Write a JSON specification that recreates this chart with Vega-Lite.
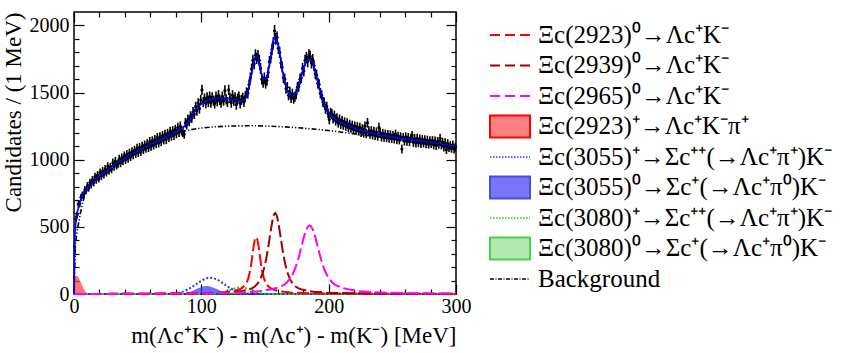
{
"$schema": "https://vega.github.io/schema/vega-lite/v6.json",
"padding": {"left": 1, "top": 10, "right": 5, "bottom": 5},
"background": "white",
"spacing": 5,
"config": {
  "view": {"stroke": null},
  "font": "Liberation Serif",
  "axis": {"labelFont": "Liberation Serif", "labelFontSize": 20, "labelColor": "black", "titleFont": "Liberation Serif", "titleFontSize": 23, "titleFontWeight": "normal", "titleColor": "black", "tickColor": "black", "tickWidth": 1.2, "labelFlush": false, "labelOverlap": false, "grid": false, "domain": false}
},
"resolve": {"scale": {"x": "independent", "y": "independent"}},
"datasets": {
"hist": [
{"x":0.5,"y":350,"e":19},{"x":1.5,"y":560,"e":24},{"x":2.5,"y":590,"e":24},{"x":3.5,"y":668,"e":26},{"x":4.5,"y":672,"e":26},{"x":5.5,"y":720,"e":27},{"x":6.5,"y":735,"e":27},{"x":7.5,"y":738,"e":27},{"x":8.5,"y":775,"e":28},{"x":9.5,"y":770,"e":28},
{"x":10.5,"y":805,"e":28},{"x":11.5,"y":790,"e":28},{"x":12.5,"y":830,"e":29},{"x":13.5,"y":815,"e":29},{"x":14.5,"y":850,"e":29},{"x":15.5,"y":830,"e":29},{"x":16.5,"y":872,"e":30},{"x":17.5,"y":850,"e":29},{"x":18.5,"y":885,"e":30},{"x":19.5,"y":860,"e":29},
{"x":20.5,"y":905,"e":30},{"x":21.5,"y":878,"e":30},{"x":22.5,"y":915,"e":30},{"x":23.5,"y":890,"e":30},{"x":24.5,"y":930,"e":30},{"x":25.5,"y":905,"e":30},{"x":26.5,"y":950,"e":31},{"x":27.5,"y":918,"e":30},{"x":28.5,"y":945,"e":31},{"x":29.5,"y":930,"e":30},
{"x":30.5,"y":978,"e":31},{"x":31.5,"y":948,"e":31},{"x":32.5,"y":990,"e":31},{"x":33.5,"y":958,"e":31},{"x":34.5,"y":970,"e":31},{"x":35.5,"y":1005,"e":32},{"x":36.5,"y":975,"e":31},{"x":37.5,"y":1015,"e":32},{"x":38.5,"y":990,"e":31},{"x":39.5,"y":1030,"e":32},
{"x":40.5,"y":1000,"e":32},{"x":41.5,"y":1040,"e":32},{"x":42.5,"y":1010,"e":32},{"x":43.5,"y":1050,"e":32},{"x":44.5,"y":1022,"e":32},{"x":45.5,"y":1060,"e":33},{"x":46.5,"y":1035,"e":32},{"x":47.5,"y":1070,"e":33},{"x":48.5,"y":1045,"e":32},{"x":49.5,"y":1085,"e":33},
{"x":50.5,"y":1052,"e":32},{"x":51.5,"y":1092,"e":33},{"x":52.5,"y":1060,"e":33},{"x":53.5,"y":1100,"e":33},{"x":54.5,"y":1075,"e":33},{"x":55.5,"y":1110,"e":33},{"x":56.5,"y":1085,"e":33},{"x":57.5,"y":1120,"e":33},{"x":58.5,"y":1090,"e":33},{"x":59.5,"y":1135,"e":34},
{"x":60.5,"y":1100,"e":33},{"x":61.5,"y":1140,"e":34},{"x":62.5,"y":1108,"e":33},{"x":63.5,"y":1150,"e":34},{"x":64.5,"y":1118,"e":33},{"x":65.5,"y":1165,"e":34},{"x":66.5,"y":1125,"e":34},{"x":67.5,"y":1170,"e":34},{"x":68.5,"y":1135,"e":34},{"x":69.5,"y":1180,"e":34},
{"x":70.5,"y":1148,"e":34},{"x":71.5,"y":1190,"e":34},{"x":72.5,"y":1150,"e":34},{"x":73.5,"y":1195,"e":35},{"x":74.5,"y":1165,"e":34},{"x":75.5,"y":1210,"e":35},{"x":76.5,"y":1175,"e":34},{"x":77.5,"y":1215,"e":35},{"x":78.5,"y":1180,"e":34},{"x":79.5,"y":1225,"e":35},
{"x":80.5,"y":1195,"e":35},{"x":81.5,"y":1240,"e":35},{"x":82.5,"y":1205,"e":35},{"x":83.5,"y":1250,"e":35},{"x":84.5,"y":1215,"e":35},{"x":85.5,"y":1205,"e":35},{"x":86.5,"y":1190,"e":34},{"x":87.5,"y":1275,"e":36},{"x":88.5,"y":1260,"e":35},{"x":89.5,"y":1300,"e":36},
{"x":90.5,"y":1285,"e":36},{"x":91.5,"y":1325,"e":36},{"x":92.5,"y":1310,"e":36},{"x":93.5,"y":1355,"e":37},{"x":94.5,"y":1340,"e":37},{"x":95.5,"y":1395,"e":37},{"x":96.5,"y":1365,"e":37},{"x":97.5,"y":1420,"e":38},{"x":98.5,"y":1380,"e":37},{"x":99.5,"y":1445,"e":38},
{"x":100.5,"y":1520,"e":39},{"x":101.5,"y":1430,"e":38},{"x":102.5,"y":1455,"e":38},{"x":103.5,"y":1420,"e":38},{"x":104.5,"y":1465,"e":38},{"x":105.5,"y":1430,"e":38},{"x":106.5,"y":1470,"e":38},{"x":107.5,"y":1425,"e":38},{"x":108.5,"y":1465,"e":38},{"x":109.5,"y":1440,"e":38},
{"x":110.5,"y":1420,"e":38},{"x":111.5,"y":1470,"e":38},{"x":112.5,"y":1435,"e":38},{"x":113.5,"y":1480,"e":38},{"x":114.5,"y":1445,"e":38},{"x":115.5,"y":1425,"e":38},{"x":116.5,"y":1470,"e":38},{"x":117.5,"y":1440,"e":38},{"x":118.5,"y":1515,"e":39},{"x":119.5,"y":1450,"e":38},
{"x":120.5,"y":1430,"e":38},{"x":121.5,"y":1520,"e":39},{"x":122.5,"y":1460,"e":38},{"x":123.5,"y":1425,"e":38},{"x":124.5,"y":1480,"e":38},{"x":125.5,"y":1440,"e":38},{"x":126.5,"y":1465,"e":38},{"x":127.5,"y":1410,"e":38},{"x":128.5,"y":1455,"e":38},{"x":129.5,"y":1470,"e":38},
{"x":130.5,"y":1420,"e":38},{"x":131.5,"y":1445,"e":38},{"x":132.5,"y":1460,"e":38},{"x":133.5,"y":1430,"e":38},{"x":134.5,"y":1470,"e":38},{"x":135.5,"y":1500,"e":39},{"x":136.5,"y":1495,"e":39},{"x":137.5,"y":1560,"e":39},{"x":138.5,"y":1610,"e":40},{"x":139.5,"y":1675,"e":41},
{"x":140.5,"y":1740,"e":42},{"x":141.5,"y":1715,"e":41},{"x":142.5,"y":1780,"e":42},{"x":143.5,"y":1755,"e":42},{"x":144.5,"y":1775,"e":42},{"x":145.5,"y":1740,"e":42},{"x":146.5,"y":1680,"e":41},{"x":147.5,"y":1600,"e":40},{"x":148.5,"y":1575,"e":40},{"x":149.5,"y":1610,"e":40},
{"x":150.5,"y":1570,"e":40},{"x":151.5,"y":1590,"e":40},{"x":152.5,"y":1650,"e":41},{"x":153.5,"y":1730,"e":42},{"x":154.5,"y":1760,"e":42},{"x":155.5,"y":1820,"e":43},{"x":156.5,"y":1870,"e":43},{"x":157.5,"y":1960,"e":44},{"x":158.5,"y":1900,"e":44},{"x":159.5,"y":1910,"e":44},
{"x":160.5,"y":1830,"e":43},{"x":161.5,"y":1800,"e":42},{"x":162.5,"y":1720,"e":41},{"x":163.5,"y":1690,"e":41},{"x":164.5,"y":1610,"e":40},{"x":165.5,"y":1600,"e":40},{"x":166.5,"y":1530,"e":39},{"x":167.5,"y":1540,"e":39},{"x":168.5,"y":1480,"e":38},{"x":169.5,"y":1505,"e":39},
{"x":170.5,"y":1460,"e":38},{"x":171.5,"y":1490,"e":39},{"x":172.5,"y":1455,"e":38},{"x":173.5,"y":1470,"e":38},{"x":174.5,"y":1490,"e":39},{"x":175.5,"y":1540,"e":39},{"x":176.5,"y":1545,"e":39},{"x":177.5,"y":1600,"e":40},{"x":178.5,"y":1610,"e":40},{"x":179.5,"y":1680,"e":41},
{"x":180.5,"y":1660,"e":41},{"x":181.5,"y":1740,"e":42},{"x":182.5,"y":1760,"e":42},{"x":183.5,"y":1730,"e":42},{"x":184.5,"y":1780,"e":42},{"x":185.5,"y":1770,"e":42},{"x":186.5,"y":1720,"e":41},{"x":187.5,"y":1745,"e":42},{"x":188.5,"y":1700,"e":41},{"x":189.5,"y":1640,"e":40},
{"x":190.5,"y":1630,"e":40},{"x":191.5,"y":1570,"e":40},{"x":192.5,"y":1560,"e":39},{"x":193.5,"y":1495,"e":39},{"x":194.5,"y":1480,"e":38},{"x":195.5,"y":1430,"e":38},{"x":196.5,"y":1425,"e":38},{"x":197.5,"y":1380,"e":37},{"x":198.5,"y":1395,"e":37},{"x":199.5,"y":1345,"e":37},
{"x":200.5,"y":1300,"e":36},{"x":201.5,"y":1350,"e":37},{"x":202.5,"y":1340,"e":37},{"x":203.5,"y":1305,"e":36},{"x":204.5,"y":1330,"e":36},{"x":205.5,"y":1290,"e":36},{"x":206.5,"y":1310,"e":36},{"x":207.5,"y":1275,"e":36},{"x":208.5,"y":1300,"e":36},{"x":209.5,"y":1265,"e":36},
{"x":210.5,"y":1290,"e":36},{"x":211.5,"y":1258,"e":35},{"x":212.5,"y":1280,"e":36},{"x":213.5,"y":1250,"e":35},{"x":214.5,"y":1272,"e":36},{"x":215.5,"y":1240,"e":35},{"x":216.5,"y":1262,"e":36},{"x":217.5,"y":1235,"e":35},{"x":218.5,"y":1255,"e":35},{"x":219.5,"y":1225,"e":35},
{"x":220.5,"y":1250,"e":35},{"x":221.5,"y":1220,"e":35},{"x":222.5,"y":1245,"e":35},{"x":223.5,"y":1215,"e":35},{"x":224.5,"y":1240,"e":35},{"x":225.5,"y":1205,"e":35},{"x":226.5,"y":1230,"e":35},{"x":227.5,"y":1200,"e":35},{"x":228.5,"y":1250,"e":35},{"x":229.5,"y":1195,"e":35},
{"x":230.5,"y":1275,"e":36},{"x":231.5,"y":1215,"e":35},{"x":232.5,"y":1190,"e":34},{"x":233.5,"y":1215,"e":35},{"x":234.5,"y":1185,"e":34},{"x":235.5,"y":1210,"e":35},{"x":236.5,"y":1180,"e":34},{"x":237.5,"y":1205,"e":35},{"x":238.5,"y":1175,"e":34},{"x":239.5,"y":1240,"e":35},
{"x":240.5,"y":1200,"e":35},{"x":241.5,"y":1170,"e":34},{"x":242.5,"y":1195,"e":35},{"x":243.5,"y":1168,"e":34},{"x":244.5,"y":1190,"e":34},{"x":245.5,"y":1165,"e":34},{"x":246.5,"y":1188,"e":34},{"x":247.5,"y":1160,"e":34},{"x":248.5,"y":1185,"e":34},{"x":249.5,"y":1158,"e":34},
{"x":250.5,"y":1180,"e":34},{"x":251.5,"y":1155,"e":34},{"x":252.5,"y":1190,"e":34},{"x":253.5,"y":1150,"e":34},{"x":254.5,"y":1175,"e":34},{"x":255.5,"y":1148,"e":34},{"x":256.5,"y":1170,"e":34},{"x":257.5,"y":1080,"e":33},{"x":258.5,"y":1165,"e":34},{"x":259.5,"y":1140,"e":34},
{"x":260.5,"y":1170,"e":34},{"x":261.5,"y":1138,"e":34},{"x":262.5,"y":1165,"e":34},{"x":263.5,"y":1135,"e":34},{"x":264.5,"y":1160,"e":34},{"x":265.5,"y":1180,"e":34},{"x":266.5,"y":1130,"e":34},{"x":267.5,"y":1158,"e":34},{"x":268.5,"y":1125,"e":34},{"x":269.5,"y":1160,"e":34},
{"x":270.5,"y":1128,"e":34},{"x":271.5,"y":1155,"e":34},{"x":272.5,"y":1120,"e":33},{"x":273.5,"y":1150,"e":34},{"x":274.5,"y":1125,"e":34},{"x":275.5,"y":1148,"e":34},{"x":276.5,"y":1118,"e":33},{"x":277.5,"y":1145,"e":34},{"x":278.5,"y":1115,"e":33},{"x":279.5,"y":1140,"e":34},
{"x":280.5,"y":1120,"e":33},{"x":281.5,"y":1142,"e":34},{"x":282.5,"y":1110,"e":33},{"x":283.5,"y":1138,"e":34},{"x":284.5,"y":1105,"e":33},{"x":285.5,"y":1135,"e":34},{"x":286.5,"y":1115,"e":33},{"x":287.5,"y":1160,"e":34},{"x":288.5,"y":1110,"e":33},{"x":289.5,"y":1130,"e":34},
{"x":290.5,"y":1095,"e":33},{"x":291.5,"y":1125,"e":34},{"x":292.5,"y":1075,"e":33},{"x":293.5,"y":1120,"e":33},{"x":294.5,"y":1090,"e":33},{"x":295.5,"y":1105,"e":33},{"x":296.5,"y":1085,"e":33},{"x":297.5,"y":1110,"e":33},{"x":298.5,"y":1080,"e":33},{"x":299.5,"y":1095,"e":33}
],
"curves": [
{"s":"tot","x":0,"v":0},{"s":"tot","x":0.5,"v":380},{"s":"tot","x":1,"v":490},{"s":"tot","x":2,"v":575},{"s":"tot","x":3,"v":625},{"s":"tot","x":4,"v":662},{"s":"tot","x":5,"v":693},{"s":"tot","x":6,"v":717},{"s":"tot","x":7,"v":737},{"s":"tot","x":8,"v":754},{"s":"tot","x":10,"v":784},{"s":"tot","x":12,"v":807},{"s":"tot","x":15,"v":838},{"s":"tot","x":20,"v":878},{"s":"tot","x":25,"v":915},{"s":"tot","x":30,"v":950},{"s":"tot","x":35,"v":982},{"s":"tot","x":40,"v":1012},{"s":"tot","x":45,"v":1040},{"s":"tot","x":50,"v":1066},{"s":"tot","x":55,"v":1090},{"s":"tot","x":60,"v":1113},{"s":"tot","x":65,"v":1135},{"s":"tot","x":70,"v":1158},{"s":"tot","x":75,"v":1180},{"s":"tot","x":80,"v":1205},{"s":"tot","x":85,"v":1236},{"s":"tot","x":88,"v":1264},{"s":"tot","x":90,"v":1285},{"s":"tot","x":93,"v":1330},{"s":"tot","x":95,"v":1360},{"s":"tot","x":98,"v":1398},{"s":"tot","x":100,"v":1415},{"s":"tot","x":103,"v":1433},{"s":"tot","x":105,"v":1443},{"s":"tot","x":110,"v":1455},{"s":"tot","x":115,"v":1460},{"s":"tot","x":120,"v":1458},{"s":"tot","x":125,"v":1448},{"s":"tot","x":130,"v":1437},{"s":"tot","x":132,"v":1437},{"s":"tot","x":134,"v":1447},{"s":"tot","x":135,"v":1460},{"s":"tot","x":136,"v":1490},{"s":"tot","x":137,"v":1525},{"s":"tot","x":138,"v":1565},{"s":"tot","x":139,"v":1615},{"s":"tot","x":140,"v":1665},{"s":"tot","x":141,"v":1715},{"s":"tot","x":142,"v":1755},{"s":"tot","x":143,"v":1772},{"s":"tot","x":144,"v":1762},{"s":"tot","x":145,"v":1732},{"s":"tot","x":146,"v":1690},{"s":"tot","x":147,"v":1648},{"s":"tot","x":148,"v":1617},{"s":"tot","x":149,"v":1599},{"s":"tot","x":150,"v":1595},{"s":"tot","x":151,"v":1605},{"s":"tot","x":152,"v":1635},{"s":"tot","x":153,"v":1680},{"s":"tot","x":154,"v":1740},{"s":"tot","x":155,"v":1800},{"s":"tot","x":156,"v":1858},{"s":"tot","x":157,"v":1900},{"s":"tot","x":158,"v":1915},{"s":"tot","x":159,"v":1905},{"s":"tot","x":160,"v":1870},{"s":"tot","x":161,"v":1820},{"s":"tot","x":162,"v":1765},{"s":"tot","x":163,"v":1705},{"s":"tot","x":164,"v":1650},{"s":"tot","x":165,"v":1600},{"s":"tot","x":166,"v":1560},{"s":"tot","x":167,"v":1530},{"s":"tot","x":168,"v":1505},{"s":"tot","x":169,"v":1488},{"s":"tot","x":170,"v":1478},{"s":"tot","x":171,"v":1472},{"s":"tot","x":172,"v":1472},{"s":"tot","x":173,"v":1478},{"s":"tot","x":174,"v":1492},{"s":"tot","x":175,"v":1512},{"s":"tot","x":176,"v":1538},{"s":"tot","x":177,"v":1568},{"s":"tot","x":178,"v":1600},{"s":"tot","x":179,"v":1635},{"s":"tot","x":180,"v":1668},{"s":"tot","x":181,"v":1700},{"s":"tot","x":182,"v":1725},{"s":"tot","x":183,"v":1743},{"s":"tot","x":184,"v":1752},{"s":"tot","x":185,"v":1753},{"s":"tot","x":186,"v":1745},{"s":"tot","x":187,"v":1728},{"s":"tot","x":188,"v":1703},{"s":"tot","x":189,"v":1672},{"s":"tot","x":190,"v":1637},{"s":"tot","x":191,"v":1600},{"s":"tot","x":192,"v":1562},{"s":"tot","x":193,"v":1525},{"s":"tot","x":194,"v":1490},{"s":"tot","x":195,"v":1458},{"s":"tot","x":196,"v":1430},{"s":"tot","x":197,"v":1405},{"s":"tot","x":198,"v":1383},{"s":"tot","x":199,"v":1364},{"s":"tot","x":200,"v":1350},{"s":"tot","x":202,"v":1327},{"s":"tot","x":205,"v":1303},{"s":"tot","x":210,"v":1278},{"s":"tot","x":215,"v":1255},{"s":"tot","x":220,"v":1236},{"s":"tot","x":225,"v":1220},{"s":"tot","x":230,"v":1206},{"s":"tot","x":240,"v":1185},{"s":"tot","x":250,"v":1170},{"s":"tot","x":260,"v":1155},{"s":"tot","x":270,"v":1141},{"s":"tot","x":280,"v":1128},{"s":"tot","x":290,"v":1115},{"s":"tot","x":300,"v":1100},
{"s":"bkg","x":0,"v":0},{"s":"bkg","x":1,"v":355},{"s":"bkg","x":2,"v":440},{"s":"bkg","x":3,"v":497},{"s":"bkg","x":4,"v":547},{"s":"bkg","x":5,"v":598},{"s":"bkg","x":6,"v":645},{"s":"bkg","x":7,"v":687},{"s":"bkg","x":8,"v":722},{"s":"bkg","x":9,"v":750},{"s":"bkg","x":10,"v":773},{"s":"bkg","x":12,"v":800},{"s":"bkg","x":15,"v":834},{"s":"bkg","x":20,"v":875},{"s":"bkg","x":25,"v":912},{"s":"bkg","x":30,"v":947},{"s":"bkg","x":35,"v":979},{"s":"bkg","x":40,"v":1009},{"s":"bkg","x":45,"v":1037},{"s":"bkg","x":50,"v":1063},{"s":"bkg","x":55,"v":1087},{"s":"bkg","x":60,"v":1110},{"s":"bkg","x":65,"v":1131},{"s":"bkg","x":70,"v":1152},{"s":"bkg","x":75,"v":1172},{"s":"bkg","x":80,"v":1192},{"s":"bkg","x":85,"v":1208},{"s":"bkg","x":90,"v":1220},{"s":"bkg","x":95,"v":1229},{"s":"bkg","x":100,"v":1236},{"s":"bkg","x":110,"v":1245},{"s":"bkg","x":120,"v":1250},{"s":"bkg","x":130,"v":1252},{"s":"bkg","x":140,"v":1253},{"s":"bkg","x":150,"v":1251},{"s":"bkg","x":160,"v":1247},{"s":"bkg","x":170,"v":1242},{"s":"bkg","x":180,"v":1235},{"s":"bkg","x":190,"v":1227},{"s":"bkg","x":200,"v":1217},{"s":"bkg","x":210,"v":1205},{"s":"bkg","x":220,"v":1193},{"s":"bkg","x":230,"v":1181},{"s":"bkg","x":240,"v":1169},{"s":"bkg","x":250,"v":1157},{"s":"bkg","x":260,"v":1145},{"s":"bkg","x":270,"v":1133},{"s":"bkg","x":280,"v":1121},{"s":"bkg","x":290,"v":1109},{"s":"bkg","x":300,"v":1096},
{"s":"r0","x":0,"v":0},{"s":"r0","x":30,"v":1},{"s":"r0","x":60,"v":2},{"s":"r0","x":86,"v":4},{"s":"r0","x":96,"v":5},{"s":"r0","x":106,"v":7},{"s":"r0","x":116,"v":11},{"s":"r0","x":121,"v":16},{"s":"r0","x":126,"v":23},{"s":"r0","x":130,"v":35},{"s":"r0","x":132,"v":45},{"s":"r0","x":134,"v":63},{"s":"r0","x":135,"v":77},{"s":"r0","x":136,"v":95},{"s":"r0","x":137,"v":122},{"s":"r0","x":138,"v":160},{"s":"r0","x":139,"v":212},{"s":"r0","x":140,"v":280},{"s":"r0","x":141,"v":352},{"s":"r0","x":142,"v":405},{"s":"r0","x":143,"v":424},{"s":"r0","x":144,"v":405},{"s":"r0","x":145,"v":352},{"s":"r0","x":146,"v":280},{"s":"r0","x":147,"v":212},{"s":"r0","x":148,"v":160},{"s":"r0","x":149,"v":122},{"s":"r0","x":150,"v":95},{"s":"r0","x":151,"v":77},{"s":"r0","x":152,"v":63},{"s":"r0","x":154,"v":45},{"s":"r0","x":156,"v":35},{"s":"r0","x":160,"v":23},{"s":"r0","x":165,"v":16},{"s":"r0","x":170,"v":11},{"s":"r0","x":180,"v":7},{"s":"r0","x":190,"v":5},{"s":"r0","x":200,"v":4},{"s":"r0","x":250,"v":2},{"s":"r0","x":300,"v":1},
{"s":"d0","x":0,"v":0},{"s":"d0","x":30,"v":1},{"s":"d0","x":58,"v":2},{"s":"d0","x":88,"v":4},{"s":"d0","x":108,"v":7},{"s":"d0","x":118,"v":10},{"s":"d0","x":128,"v":17},{"s":"d0","x":133,"v":24},{"s":"d0","x":138,"v":36},{"s":"d0","x":140,"v":44},{"s":"d0","x":142,"v":56},{"s":"d0","x":144,"v":75},{"s":"d0","x":146,"v":104},{"s":"d0","x":148,"v":150},{"s":"d0","x":149,"v":182},{"s":"d0","x":150,"v":220},{"s":"d0","x":151,"v":265},{"s":"d0","x":152,"v":318},{"s":"d0","x":153,"v":378},{"s":"d0","x":154,"v":440},{"s":"d0","x":155,"v":500},{"s":"d0","x":156,"v":555},{"s":"d0","x":157,"v":590},{"s":"d0","x":158,"v":603},{"s":"d0","x":159,"v":590},{"s":"d0","x":160,"v":555},{"s":"d0","x":161,"v":500},{"s":"d0","x":162,"v":440},{"s":"d0","x":163,"v":378},{"s":"d0","x":164,"v":318},{"s":"d0","x":165,"v":265},{"s":"d0","x":166,"v":220},{"s":"d0","x":167,"v":182},{"s":"d0","x":168,"v":150},{"s":"d0","x":170,"v":104},{"s":"d0","x":172,"v":75},{"s":"d0","x":174,"v":56},{"s":"d0","x":176,"v":44},{"s":"d0","x":178,"v":36},{"s":"d0","x":183,"v":24},{"s":"d0","x":188,"v":17},{"s":"d0","x":198,"v":10},{"s":"d0","x":208,"v":7},{"s":"d0","x":228,"v":4},{"s":"d0","x":258,"v":2},{"s":"d0","x":300,"v":1},
{"s":"m0","x":0,"v":0},{"s":"m0","x":40,"v":1},{"s":"m0","x":70,"v":3},{"s":"m0","x":85,"v":4},{"s":"m0","x":115,"v":7},{"s":"m0","x":135,"v":13},{"s":"m0","x":145,"v":20},{"s":"m0","x":155,"v":35},{"s":"m0","x":160,"v":48},{"s":"m0","x":165,"v":68},{"s":"m0","x":167,"v":84},{"s":"m0","x":170,"v":118},{"s":"m0","x":172,"v":153},{"s":"m0","x":174,"v":199},{"s":"m0","x":175,"v":227},{"s":"m0","x":176,"v":258},{"s":"m0","x":177,"v":293},{"s":"m0","x":178,"v":330},{"s":"m0","x":179,"v":368},{"s":"m0","x":180,"v":405},{"s":"m0","x":181,"v":440},{"s":"m0","x":182,"v":470},{"s":"m0","x":183,"v":490},{"s":"m0","x":184,"v":505},{"s":"m0","x":185,"v":511},{"s":"m0","x":186,"v":505},{"s":"m0","x":187,"v":490},{"s":"m0","x":188,"v":470},{"s":"m0","x":189,"v":440},{"s":"m0","x":190,"v":405},{"s":"m0","x":191,"v":368},{"s":"m0","x":192,"v":330},{"s":"m0","x":193,"v":293},{"s":"m0","x":194,"v":258},{"s":"m0","x":195,"v":227},{"s":"m0","x":196,"v":199},{"s":"m0","x":198,"v":153},{"s":"m0","x":200,"v":118},{"s":"m0","x":203,"v":84},{"s":"m0","x":205,"v":68},{"s":"m0","x":210,"v":48},{"s":"m0","x":215,"v":35},{"s":"m0","x":225,"v":20},{"s":"m0","x":235,"v":13},{"s":"m0","x":255,"v":7},{"s":"m0","x":285,"v":4},{"s":"m0","x":300,"v":3},
{"s":"rp","x":0,"v":100},{"s":"rp","x":1,"v":135},{"s":"rp","x":2,"v":136},{"s":"rp","x":3,"v":128},{"s":"rp","x":4,"v":115},{"s":"rp","x":5,"v":95},{"s":"rp","x":6,"v":72},{"s":"rp","x":7,"v":50},{"s":"rp","x":8,"v":32},{"s":"rp","x":9,"v":18},{"s":"rp","x":10,"v":9},{"s":"rp","x":11,"v":4},{"s":"rp","x":12,"v":1.5},{"s":"rp","x":13,"v":0.5},{"s":"rp","x":14,"v":0},{"s":"rp","x":300,"v":0},
{"s":"bz","x":0,"v":0},{"s":"bz","x":76,"v":0.1},{"s":"bz","x":80,"v":0.7},{"s":"bz","x":82,"v":1.4},{"s":"bz","x":84,"v":2.6},{"s":"bz","x":86,"v":4.8},{"s":"bz","x":88,"v":8.1},{"s":"bz","x":90,"v":13},{"s":"bz","x":92,"v":19.5},{"s":"bz","x":94,"v":27.5},{"s":"bz","x":96,"v":36.4},{"s":"bz","x":98,"v":45.3},{"s":"bz","x":100,"v":52.9},{"s":"bz","x":102,"v":58.2},{"s":"bz","x":104,"v":60},{"s":"bz","x":106,"v":58.2},{"s":"bz","x":108,"v":52.9},{"s":"bz","x":110,"v":45.3},{"s":"bz","x":112,"v":36.4},{"s":"bz","x":114,"v":27.5},{"s":"bz","x":116,"v":19.5},{"s":"bz","x":118,"v":13},{"s":"bz","x":120,"v":8.1},{"s":"bz","x":122,"v":4.8},{"s":"bz","x":124,"v":2.6},{"s":"bz","x":126,"v":1.4},{"s":"bz","x":128,"v":0.7},{"s":"bz","x":132,"v":0.1},{"s":"bz","x":300,"v":0},
{"s":"bp","x":0,"v":0},{"s":"bp","x":67,"v":0.1},{"s":"bp","x":71,"v":0.6},{"s":"bp","x":74,"v":1.3},{"s":"bp","x":77,"v":3},{"s":"bp","x":80,"v":5.9},{"s":"bp","x":83,"v":11.2},{"s":"bp","x":86,"v":19.5},{"s":"bp","x":89,"v":31.7},{"s":"bp","x":92,"v":47.8},{"s":"bp","x":95,"v":66.7},{"s":"bp","x":98,"v":86.7},{"s":"bp","x":101,"v":104.3},{"s":"bp","x":104,"v":116.6},{"s":"bp","x":107,"v":121},{"s":"bp","x":110,"v":116.6},{"s":"bp","x":113,"v":104.3},{"s":"bp","x":116,"v":86.7},{"s":"bp","x":119,"v":66.7},{"s":"bp","x":122,"v":47.8},{"s":"bp","x":125,"v":31.7},{"s":"bp","x":128,"v":19.5},{"s":"bp","x":131,"v":11.2},{"s":"bp","x":134,"v":5.9},{"s":"bp","x":137,"v":3},{"s":"bp","x":140,"v":1.3},{"s":"bp","x":143,"v":0.6},{"s":"bp","x":147,"v":0.1},{"s":"bp","x":300,"v":0},
{"s":"gp","x":0,"v":0},{"s":"gp","x":107,"v":0.6},{"s":"gp","x":110,"v":1.6},{"s":"gp","x":113,"v":4},{"s":"gp","x":116,"v":8.6},{"s":"gp","x":119,"v":16.2},{"s":"gp","x":122,"v":26.5},{"s":"gp","x":125,"v":37.7},{"s":"gp","x":128,"v":46.6},{"s":"gp","x":131,"v":50},{"s":"gp","x":134,"v":46.6},{"s":"gp","x":137,"v":37.7},{"s":"gp","x":140,"v":26.5},{"s":"gp","x":143,"v":16.2},{"s":"gp","x":146,"v":8.6},{"s":"gp","x":149,"v":4},{"s":"gp","x":152,"v":1.6},{"s":"gp","x":155,"v":0.6},{"s":"gp","x":300,"v":0},
{"s":"gz","x":107,"v":0},{"s":"gz","x":110,"v":0.2},{"s":"gz","x":113,"v":0.9},{"s":"gz","x":116,"v":2.7},{"s":"gz","x":119,"v":6.5},{"s":"gz","x":122,"v":12.1},{"s":"gz","x":125,"v":17.6},{"s":"gz","x":128,"v":20},{"s":"gz","x":131,"v":17.6},{"s":"gz","x":134,"v":12.1},{"s":"gz","x":137,"v":6.5},{"s":"gz","x":140,"v":2.7},{"s":"gz","x":143,"v":0.9},{"s":"gz","x":146,"v":0.2},{"s":"gz","x":149,"v":0}
],
"legend": [
{"r":1,"k":"r0","t":"Ξc(2923)⁰→Λc⁺K⁻"},
{"r":2,"k":"d0","t":"Ξc(2939)⁰→Λc⁺K⁻"},
{"r":3,"k":"m0","t":"Ξc(2965)⁰→Λc⁺K⁻"},
{"r":4,"k":"rp","t":"Ξc(2923)⁺→Λc⁺K⁻π⁺"},
{"r":5,"k":"bp","t":"Ξc(3055)⁺→Σc⁺⁺(→Λc⁺π⁺)K⁻"},
{"r":6,"k":"bz","t":"Ξc(3055)⁰→Σc⁺(→Λc⁺π⁰)K⁻"},
{"r":7,"k":"gp","t":"Ξc(3080)⁺→Σc⁺⁺(→Λc⁺π⁺)K⁻"},
{"r":8,"k":"gz","t":"Ξc(3080)⁰→Σc⁺(→Λc⁺π⁰)K⁻"},
{"r":9,"k":"bkg","t":"Background"}
]
},
"hconcat": [
{
  "width": 382, "height": 282,
  "view": {"stroke": "black", "strokeWidth": 1.5},
  "resolve": {"axis": {"x": "independent", "y": "independent"}},
  "layer": [
    {"data": {"name": "curves"}, "transform": [{"filter": "datum.s === 'rp'"}],
     "mark": {"type": "area", "color": "#ff3b3b", "opacity": 0.7},
     "encoding": {"x": {"field": "x", "type": "quantitative", "scale": {"domain": [0, 300], "nice": false, "zero": false}, "axis": null},
                  "y": {"field": "v", "type": "quantitative", "scale": {"domain": [0, 2100], "nice": false}, "axis": null}}},
    {"data": {"name": "curves"}, "transform": [{"filter": "datum.s === 'bz'"}],
     "mark": {"type": "area", "color": "#2f2fff", "opacity": 0.7},
     "encoding": {"x": {"field": "x", "type": "quantitative", "axis": null}, "y": {"field": "v", "type": "quantitative", "axis": null}}},
    {"data": {"name": "curves"}, "transform": [{"filter": "datum.s === 'gz'"}],
     "mark": {"type": "area", "color": "#4fd24f", "opacity": 0.5},
     "encoding": {"x": {"field": "x", "type": "quantitative", "axis": null}, "y": {"field": "v", "type": "quantitative", "axis": null}}},
    {"data": {"name": "curves"}, "transform": [{"filter": "datum.s === 'bp'"}],
     "mark": {"type": "line", "color": "#3030ff", "strokeDash": [2, 2], "strokeWidth": 2},
     "encoding": {"x": {"field": "x", "type": "quantitative", "axis": null}, "y": {"field": "v", "type": "quantitative", "axis": null}}},
    {"data": {"name": "curves"}, "transform": [{"filter": "datum.s === 'gp'"}],
     "mark": {"type": "line", "color": "#1ccf1c", "strokeDash": [2, 2], "strokeWidth": 2},
     "encoding": {"x": {"field": "x", "type": "quantitative", "axis": null}, "y": {"field": "v", "type": "quantitative", "axis": null}}},
    {"data": {"name": "curves"}, "transform": [{"filter": "datum.s === 'r0'"}],
     "mark": {"type": "line", "color": "#ff0000", "strokeDash": [12, 4], "strokeWidth": 2},
     "encoding": {"x": {"field": "x", "type": "quantitative", "axis": null}, "y": {"field": "v", "type": "quantitative", "axis": null}}},
    {"data": {"name": "curves"}, "transform": [{"filter": "datum.s === 'd0'"}],
     "mark": {"type": "line", "color": "#a00000", "strokeDash": [12, 4], "strokeWidth": 2},
     "encoding": {"x": {"field": "x", "type": "quantitative", "axis": null}, "y": {"field": "v", "type": "quantitative", "axis": null}}},
    {"data": {"name": "curves"}, "transform": [{"filter": "datum.s === 'm0'"}],
     "mark": {"type": "line", "color": "#ff00ff", "strokeDash": [12, 4], "strokeWidth": 2},
     "encoding": {"x": {"field": "x", "type": "quantitative", "axis": null}, "y": {"field": "v", "type": "quantitative", "axis": null}}},
    {"data": {"name": "curves"}, "transform": [{"filter": "datum.s === 'bkg'"}],
     "mark": {"type": "line", "color": "black", "strokeDash": [5, 2, 1.2, 2, 1.2, 2], "strokeWidth": 1.6},
     "encoding": {
       "x": {"field": "x", "type": "quantitative",
             "axis": {"orient": "bottom", "values": [0,20,40,60,80,100,120,140,160,180,200,220,240,260,280,300], "format": "d",
                      "labelExpr": "datum.value % 100 === 0 ? datum.label : ''",
                      "tickSize": {"condition": {"test": "datum.value % 100 === 0", "value": -10}, "value": -5},
                      "labelPadding": 12, "title": "m(Λc⁺K⁻) - m(Λc⁺) - m(K⁻) [MeV]", "titleAnchor": "end", "titlePadding": 3}},
       "y": {"field": "v", "type": "quantitative",
             "axis": {"orient": "left", "values": [0,100,200,300,400,500,600,700,800,900,1000,1100,1200,1300,1400,1500,1600,1700,1800,1900,2000], "format": "d",
                      "labelExpr": "datum.value % 500 === 0 ? datum.label : ''",
                      "tickSize": {"condition": {"test": "datum.value % 500 === 0", "value": -10}, "value": -5},
                      "labelPadding": 15, "title": "Candidates / (1 MeV)", "titleAnchor": "end", "titlePadding": 4}}}},
    {"data": {"name": "hist"},
     "mark": {"type": "errorbar", "color": "black", "thickness": 1.6},
     "encoding": {"x": {"field": "x", "type": "quantitative", "axis": null}, "y": {"field": "y", "type": "quantitative", "axis": null}, "yError": {"field": "e"}}},
    {"data": {"name": "hist"},
     "mark": {"type": "point", "filled": true, "color": "black", "size": 10, "opacity": 1},
     "encoding": {"x": {"field": "x", "type": "quantitative", "axis": null}, "y": {"field": "y", "type": "quantitative", "axis": null}}},
    {"data": {"name": "curves"}, "transform": [{"filter": "datum.s === 'tot'"}],
     "mark": {"type": "line", "color": "#0000ff", "strokeWidth": 1.6},
     "encoding": {
       "x": {"field": "x", "type": "quantitative",
             "axis": {"orient": "top", "values": [0,20,40,60,80,100,120,140,160,180,200,220,240,260,280,300], "labels": false,
                      "tickSize": {"condition": {"test": "datum.value % 100 === 0", "value": -10}, "value": -5}, "title": null}},
       "y": {"field": "v", "type": "quantitative",
             "axis": {"orient": "right", "values": [0,100,200,300,400,500,600,700,800,900,1000,1100,1200,1300,1400,1500,1600,1700,1800,1900,2000], "labels": false,
                      "tickSize": {"condition": {"test": "datum.value % 500 === 0", "value": -10}, "value": -5}, "title": null}}}},
    {"mark": {"type": "text", "font": "Liberation Serif", "fontSize": 19, "color": "black"},
     "encoding": {"x": {"datum": 244, "type": "quantitative", "axis": null}, "y": {"datum": 1809, "type": "quantitative", "axis": null}, "text": {"value": "LHCb"}}},
    {"mark": {"type": "text", "font": "Liberation Serif", "fontSize": 19, "color": "black"},
     "encoding": {"x": {"datum": 242, "type": "quantitative", "axis": null}, "y": {"datum": 1668, "type": "quantitative", "axis": null}, "text": {"value": "(a)"}}}
  ]
},
{
  "width": 385, "height": 282,
  "data": {"name": "legend"},
  "layer": [
    {"transform": [{"filter": "datum.k === 'r0'"}],
     "mark": {"type": "rule", "color": "#ff0000", "strokeDash": [10, 5], "strokeWidth": 2},
     "encoding": {"x": {"datum": 13, "type": "quantitative", "scale": {"domain": [0, 385], "nice": false, "zero": false}, "axis": null}, "x2": {"datum": 53},
                  "y": {"field": "r", "type": "quantitative", "scale": {"domain": [0.246, 9.492], "reverse": true, "nice": false, "zero": false}, "axis": null}}},
    {"transform": [{"filter": "datum.k === 'd0'"}],
     "mark": {"type": "rule", "color": "#a00000", "strokeDash": [10, 5], "strokeWidth": 2},
     "encoding": {"x": {"datum": 13, "type": "quantitative", "axis": null}, "x2": {"datum": 53}, "y": {"field": "r", "type": "quantitative", "axis": null}}},
    {"transform": [{"filter": "datum.k === 'm0'"}],
     "mark": {"type": "rule", "color": "#ff00ff", "strokeDash": [10, 5], "strokeWidth": 2},
     "encoding": {"x": {"datum": 13, "type": "quantitative", "axis": null}, "x2": {"datum": 53}, "y": {"field": "r", "type": "quantitative", "axis": null}}},
    {"transform": [{"filter": "datum.k === 'bp'"}],
     "mark": {"type": "rule", "color": "#3030ff", "strokeDash": [1.5, 1.5], "strokeWidth": 1.5},
     "encoding": {"x": {"datum": 13, "type": "quantitative", "axis": null}, "x2": {"datum": 53}, "y": {"field": "r", "type": "quantitative", "axis": null}}},
    {"transform": [{"filter": "datum.k === 'gp'"}],
     "mark": {"type": "rule", "color": "#1ccf1c", "strokeDash": [1.5, 1.5], "strokeWidth": 1.5},
     "encoding": {"x": {"datum": 13, "type": "quantitative", "axis": null}, "x2": {"datum": 53}, "y": {"field": "r", "type": "quantitative", "axis": null}}},
    {"transform": [{"filter": "datum.k === 'bkg'"}],
     "mark": {"type": "rule", "color": "black", "strokeDash": [4, 1.5, 1, 1.5], "strokeWidth": 1.5},
     "encoding": {"x": {"datum": 13, "type": "quantitative", "axis": null}, "x2": {"datum": 53}, "y": {"field": "r", "type": "quantitative", "axis": null}}},
    {"transform": [{"filter": "datum.k === 'rp'"}],
     "mark": {"type": "point", "shape": "M-1,-0.55H1V0.55H-1Z", "size": 1600, "filled": true, "fill": "#ff8080", "stroke": "#ff0000", "strokeWidth": 2, "opacity": 1},
     "encoding": {"x": {"datum": 33, "type": "quantitative", "axis": null}, "y": {"field": "r", "type": "quantitative", "axis": null}}},
    {"transform": [{"filter": "datum.k === 'bz'"}],
     "mark": {"type": "point", "shape": "M-1,-0.55H1V0.55H-1Z", "size": 1600, "filled": true, "fill": "#7676f6", "stroke": "#4b4bdc", "strokeWidth": 2, "opacity": 1},
     "encoding": {"x": {"datum": 33, "type": "quantitative", "axis": null}, "y": {"field": "r", "type": "quantitative", "axis": null}}},
    {"transform": [{"filter": "datum.k === 'gz'"}],
     "mark": {"type": "point", "shape": "M-1,-0.55H1V0.55H-1Z", "size": 1600, "filled": true, "fill": "#b0e8b0", "stroke": "#4ccf4c", "strokeWidth": 2, "opacity": 1},
     "encoding": {"x": {"datum": 33, "type": "quantitative", "axis": null}, "y": {"field": "r", "type": "quantitative", "axis": null}}},
    {"mark": {"type": "text", "align": "left", "baseline": "middle", "font": "Liberation Serif", "fontSize": 25, "color": "black"},
     "encoding": {"x": {"datum": 61, "type": "quantitative", "axis": null}, "y": {"field": "r", "type": "quantitative", "axis": null}, "text": {"field": "t"}}}
  ]
}
]
}
